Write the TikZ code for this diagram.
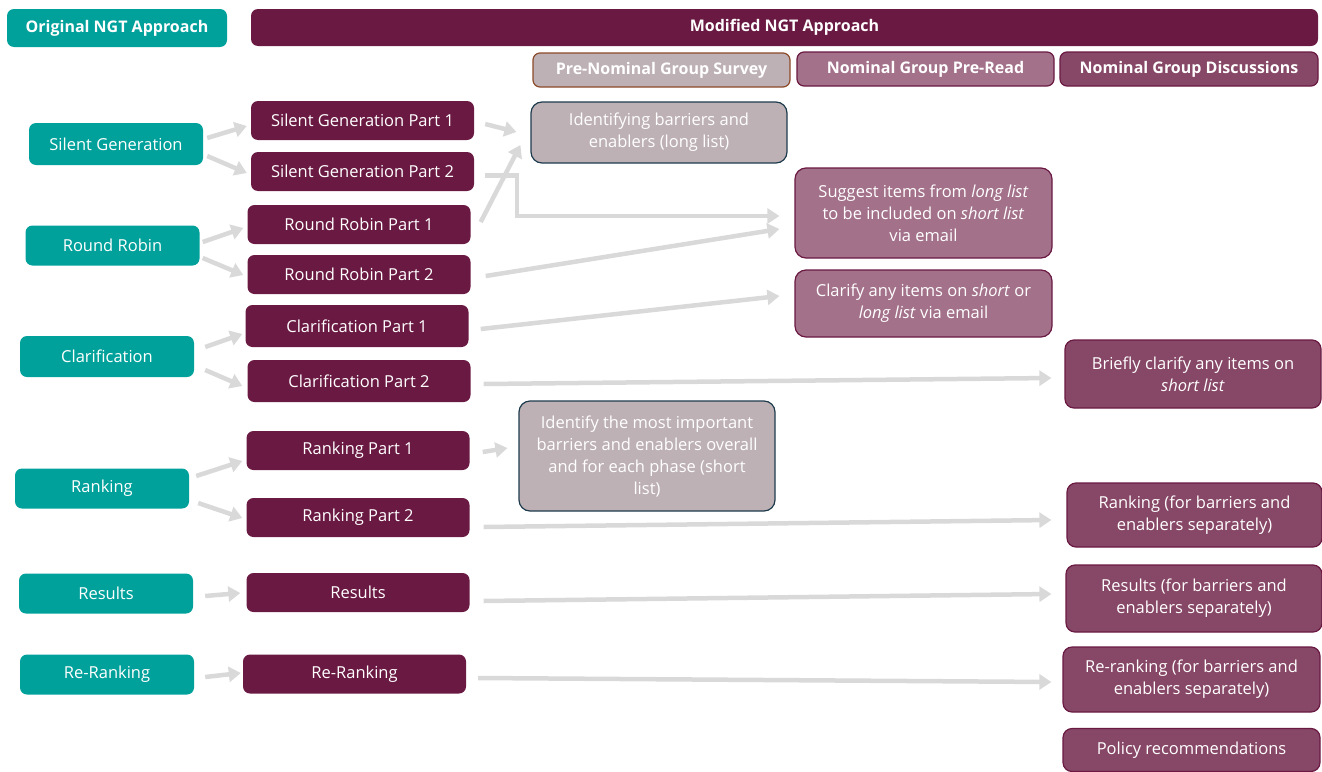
\documentclass[tikz,border=0pt]{standalone}
\usepackage{fontspec}
\setmainfont{Open Sans}
\usetikzlibrary{arrows.meta}
\definecolor{ngtteal}{HTML}{00A19B}
\definecolor{ngtmaroon}{HTML}{6A1942}
\definecolor{ngtgrey}{HTML}{BEB1B5}
\definecolor{ngtbrown}{HTML}{8C4A2A}
\definecolor{ngtslate}{HTML}{1D3B4C}
\definecolor{ngtmauve}{HTML}{A3718A}
\definecolor{ngtplum}{HTML}{874766}
\definecolor{ngtarrow}{HTML}{D9D9D9}
\tikzset{
  box/.style={rounded corners=7pt,text=white,inner sep=0pt,align=center,font=\fontsize{16.5}{22}\selectfont},
  head/.style={box,font=\fontsize{16}{18}\selectfont\bfseries,minimum height=36pt},
  orig/.style={box,fill=ngtteal,minimum width=174pt,minimum height=40pt},
  modi/.style={box,fill=ngtmaroon,minimum width=223pt,minimum height=39pt},
  survey/.style={box,fill=ngtgrey,draw=ngtslate,line width=1.2pt,rounded corners=11pt,minimum width=256pt},
  preread/.style={box,fill=ngtmauve,draw=ngtmaroon,line width=1.2pt,rounded corners=11pt,minimum width=257pt},
  disc/.style={box,fill=ngtplum,draw=ngtmaroon,line width=1.2pt,rounded corners=9pt,minimum width=256pt},
  flow/.style={draw=ngtarrow,line width=4.5pt,-{Triangle[length=12pt,width=15pt]}}
}
\begin{document}
\begin{tikzpicture}[x=1pt,y=-1pt]
\useasboundingbox (0,0) rectangle (1322,771);

\node[head,fill=ngtteal,minimum width=220pt,minimum height=38pt] (hOrig) at (117,28) {Original NGT Approach};
\node[head,fill=ngtmaroon,minimum width=1067pt,minimum height=37pt] (hModi) at (784.5,27.5) {Modified NGT Approach};
\node[head,fill=ngtgrey,draw=ngtbrown,line width=1.2pt,minimum width=257pt,minimum height=34pt] (hSurvey) at (661.5,70) {Pre-Nominal Group Survey};
\node[head,fill=ngtmauve,draw=ngtmaroon,line width=1.2pt,minimum width=257pt,minimum height=34pt] (hPreread) at (925.5,69) {Nominal Group Pre-Read};
\node[head,fill=ngtplum,draw=ngtmaroon,line width=1.2pt,minimum width=258pt,minimum height=34pt] (hDisc) at (1189,69) {Nominal Group Discussions};

\node[orig,minimum height=42pt] (oSilent) at (116,144) {Silent Generation};
\node[orig] (oRobin) at (112.5,245.5) {Round Robin};
\node[orig,minimum height=41pt] (oClar) at (107,356.5) {Clarification};
\node[orig] (oRank) at (102,488.5) {Ranking};
\node[orig] (oResults) at (106,593.5) {Results};
\node[orig] (oRerank) at (107,674.5) {Re-Ranking};

\node[modi] (mSilentA) at (362.5,120.5) {Silent Generation Part 1};
\node[modi] (mSilentB) at (362.5,171.5) {Silent Generation Part 2};
\node[modi] (mRobinA) at (359,224.5) {Round Robin Part 1};
\node[modi] (mRobinB) at (359,274.5) {Round Robin Part 2};
\node[modi,minimum height=42pt] (mClarA) at (357,326) {Clarification Part 1};
\node[modi,minimum height=42pt] (mClarB) at (359,381) {Clarification Part 2};
\node[modi] (mRankA) at (358,450.5) {Ranking Part 1};
\node[modi] (mRankB) at (358,517.5) {Ranking Part 2};
\node[modi] (mResults) at (358,592.5) {Results};
\node[modi] (mRerank) at (354.5,674) {Re-Ranking};

\node[survey,minimum height=61pt] (sLong) at (659,132.5) {Identifying barriers and\\enablers (long list)};
\node[survey,minimum height=110pt] (sShort) at (647,456) {Identify the most important\\barriers and enablers overall\\and for each phase (short\\list)};

\node[preread,minimum height=90pt] (pSuggest) at (923.5,213) {Suggest items from \textit{long list}\\to be included on \textit{short list}\\via email};
\node[preread,minimum height=67pt] (pClarify) at (923.5,303.5) {Clarify any items on \textit{short} or\\\textit{long list} via email};

\node[disc,minimum height=68pt] (dBrief) at (1193,374) {Briefly clarify any items on\\\textit{short list}};
\node[disc,minimum height=64pt,minimum width=255pt] (dRank) at (1194.5,515) {Ranking (for barriers and\\enablers separately)};
\node[disc,minimum height=67pt] (dResults) at (1194,598.5) {Results (for barriers and\\enablers separately)};
\node[disc,minimum height=65pt,minimum width=257pt] (dRerank) at (1191.5,679.5) {Re-ranking (for barriers and\\enablers separately)};
\node[disc,minimum height=43pt,minimum width=257pt] (dPolicy) at (1191.5,750) {Policy recommendations};

\draw[flow] ([shift={(4,-6)}]oSilent.east) -- ([shift={(-4,5.5)}]mSilentA.west);
\draw[flow] ([shift={(4,12)}]oSilent.east) -- ([shift={(-4,1.5)}]mSilentB.west);
\draw[flow] ([shift={(3,-3.5)}]oRobin.east) -- ([shift={(-4,3.5)}]mRobinA.west);
\draw[flow] ([shift={(3,12.5)}]oRobin.east) -- ([shift={(-4,0.5)}]mRobinB.west);
\draw[flow] ([shift={(11,-9.5)}]oClar.east) -- ([shift={(-3,8)}]mClarA.west);
\draw[flow] ([shift={(11,13.5)}]oClar.east) -- ([shift={(-5,5)}]mClarB.west);
\draw[flow] ([shift={(7,-12.5)}]oRank.east) -- ([shift={(-4,10.5)}]mRankA.west);
\draw[flow] ([shift={(9,14.5)}]oRank.east) -- ([shift={(-4,0.5)}]mRankB.west);
\draw[flow] ([shift={(12,2.5)}]oResults.east) -- ([shift={(-6,0.5)}]mResults.west);
\draw[flow] ([shift={(11,2.5)}]oRerank.east) -- ([shift={(-2,-1)}]mRerank.west);

\draw[flow] ([shift={(11,3.5)}]mSilentA.east) -- ([shift={(-14,-0.5)}]sLong.west);
\draw[flow] ([shift={(10,-2.5)}]mRobinA.east) -- ([shift={(-10,12.5)}]sLong.west);
\draw[flow] ([shift={(11,4)}]mSilentB.east) -- ++(32,0) |- ([shift={(-15,3)}]pSuggest.west);
\draw[flow] ([shift={(15,1.5)}]mRobinB.east) -- ([shift={(-15,16)}]pSuggest.west);
\draw[flow] ([shift={(12,3)}]mClarA.east) -- ([shift={(-15,-7.5)}]pClarify.west);
\draw[flow] ([shift={(13,3)}]mClarB.east) -- ([shift={(-13,4)}]dBrief.west);
\draw[flow] ([shift={(13,1.5)}]mRankA.east) -- ([shift={(-11,-8)}]sShort.west);
\draw[flow] ([shift={(14,9.5)}]mRankB.east) -- ([shift={(-15,5)}]dRank.west);
\draw[flow] ([shift={(14,8.5)}]mResults.east) -- ([shift={(-14,-4.5)}]dResults.west);
\draw[flow] ([shift={(12,4)}]mRerank.east) -- ([shift={(-11,2.5)}]dRerank.west);
\end{tikzpicture}
\end{document}
